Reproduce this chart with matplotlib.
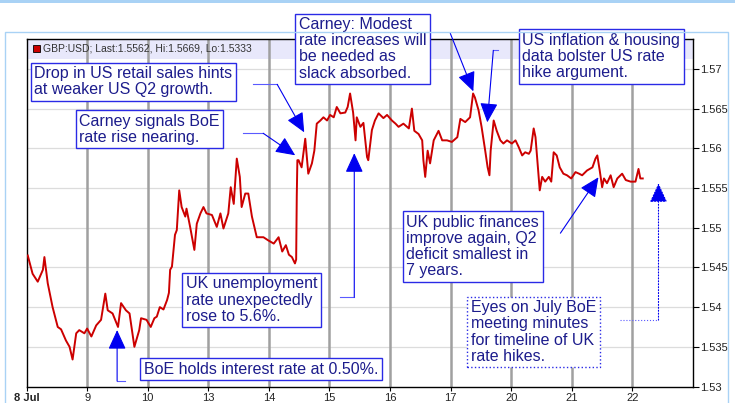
import matplotlib
matplotlib.use('Agg')
import matplotlib.pyplot as plt
from matplotlib.patches import Rectangle

plt.rcParams['font.family'] = ['Liberation Sans', 'DejaVu Sans']

# GBP:USD intraday, x = trading day index (0 = 8 Jul, 10 = 22 Jul)
day_pos = [
    0.02, 0.10, 0.185, 0.27, 0.295, 0.35, 0.43, 0.515, 0.57, 0.65, 0.71, 0.76,
    0.82, 0.87, 0.955, 1.00, 1.07, 1.15, 1.23, 1.30, 1.34, 1.42, 1.51, 1.56,
    1.64, 1.70, 1.78, 1.86, 1.89, 1.98, 2.05, 2.11, 2.15, 2.20, 2.26, 2.32,
    2.35, 2.37, 2.40, 2.45, 2.48, 2.52, 2.56, 2.62, 2.64, 2.70, 2.77, 2.81,
    2.87, 2.92, 2.97, 3.06, 3.14, 3.20, 3.25, 3.33, 3.37, 3.42, 3.47, 3.52,
    3.55, 3.61, 3.66, 3.72, 3.80, 3.91, 3.99, 4.08, 4.16, 4.22, 4.28, 4.33,
    4.38, 4.43, 4.45, 4.46, 4.47, 4.49, 4.54, 4.60, 4.63, 4.65, 4.71, 4.75,
    4.79, 4.85, 4.90, 4.96, 5.01, 5.07, 5.12, 5.18, 5.26, 5.30, 5.34, 5.39,
    5.43, 5.45, 5.51, 5.56, 5.62, 5.64, 5.70, 5.75, 5.81, 5.89, 5.95, 6.03,
    6.09, 6.14, 6.22, 6.31, 6.36, 6.40, 6.47, 6.53, 6.55, 6.58, 6.62, 6.66,
    6.72, 6.80, 6.86, 6.94, 7.02, 7.11, 7.16, 7.24, 7.32, 7.37, 7.40, 7.46,
    7.51, 7.57, 7.61, 7.64, 7.66, 7.71, 7.76, 7.82, 7.87, 7.93, 8.01, 8.07,
    8.12, 8.18, 8.23, 8.29, 8.32, 8.37, 8.40, 8.44, 8.47, 8.51, 8.56, 8.62,
    8.66, 8.70, 8.75, 8.80, 8.86, 8.92, 8.99, 9.06, 9.12, 9.17, 9.25, 9.34,
    9.39, 9.42, 9.46, 9.50, 9.53, 9.58, 9.64, 9.69, 9.75, 9.83, 9.89, 9.97,
    10.05, 10.10, 10.13, 10.17,
]
rate = [
    1.5465, 1.5442, 1.5432, 1.5447, 1.5463, 1.5430, 1.5400, 1.5375, 1.5372, 1.5358, 1.5350, 1.5334,
    1.5367, 1.5371, 1.5367, 1.5373, 1.5363, 1.5377, 1.5384, 1.5417, 1.5396, 1.5392, 1.5375, 1.5405,
    1.5396, 1.5392, 1.5350, 1.5371, 1.5386, 1.5384, 1.5375, 1.5386, 1.5388, 1.5400, 1.5397, 1.5409,
    1.5418, 1.5447, 1.5451, 1.5491, 1.5497, 1.5547, 1.5526, 1.5514, 1.5524, 1.5501, 1.5472, 1.5505,
    1.5518, 1.5526, 1.5518, 1.5516, 1.5501, 1.5518, 1.5499, 1.5518, 1.5551, 1.5530, 1.5587, 1.5564,
    1.5526, 1.5543, 1.5543, 1.5514, 1.5488, 1.5488, 1.5484, 1.5480, 1.5488, 1.5470, 1.5478, 1.5466,
    1.5463, 1.5455, 1.5460, 1.5540, 1.5585, 1.5585, 1.5576, 1.5612, 1.5585, 1.5568, 1.5581, 1.5597,
    1.5631, 1.5635, 1.5639, 1.5635, 1.5642, 1.5639, 1.5652, 1.5644, 1.5645, 1.5652, 1.5669, 1.5645,
    1.5610, 1.5639, 1.5627, 1.5632, 1.5589, 1.5585, 1.5623, 1.5635, 1.5644, 1.5638, 1.5642, 1.5635,
    1.5631, 1.5627, 1.5631, 1.5625, 1.5650, 1.5622, 1.5618, 1.5610, 1.5585, 1.5564, 1.5597, 1.5581,
    1.5610, 1.5622, 1.5610, 1.5610, 1.5608, 1.5614, 1.5637, 1.5633, 1.5639, 1.5669, 1.5664, 1.5648,
    1.5627, 1.5597, 1.5576, 1.5566, 1.5597, 1.5635, 1.5622, 1.5610, 1.5606, 1.5610, 1.5606, 1.5610,
    1.5602, 1.5591, 1.5595, 1.5593, 1.5597, 1.5625, 1.5614, 1.5576, 1.5547, 1.5564, 1.5558, 1.5564,
    1.5558, 1.5595, 1.5591, 1.5576, 1.5568, 1.5566, 1.5562, 1.5570, 1.5568, 1.5566, 1.5572, 1.5576,
    1.5587, 1.5591, 1.5572, 1.5551, 1.5562, 1.5556, 1.5566, 1.5551, 1.5562, 1.5568, 1.5560, 1.5558,
    1.5558, 1.5574, 1.5562, 1.5562,
]

day_labels = ['8 Jul', '9', '10', '13', '14', '15', '16', '17', '20', '21', '22']
rate_ticks = [1.53, 1.535, 1.54, 1.545, 1.55, 1.555, 1.56, 1.565, 1.57]
rate_tick_labels = ['1.53', '1.535', '1.54', '1.545', '1.55', '1.555', '1.56', '1.565', '1.57']
legend_text = 'GBP:USD; Last:1.5562, Hi:1.5669, Lo:1.5333'

# news callouts: box centre, leader corners, arrow tip (all in day / rate units)
notes = [
    dict(text='Drop in US retail sales hints\nat weaker US Q2 growth.', box=(1.759, 1.56837),
         path=[(3.741, 1.56805), (4.137, 1.56805)], tip=(4.583, 1.56201), dotted=False),
    dict(text='Carney signals BoE\nrate rise nearing.', box=(2.031, 1.56239),
         path=[(3.576, 1.56189), (3.906, 1.56189)], tip=(4.434, 1.55912), dotted=False),
    dict(text='Carney: Modest\nrate increases will\nbe needed as\nslack absorbed.', box=(5.549, 1.57252),
         path=[(6.994, 1.57447)], tip=(7.374, 1.56717), dotted=False),
    dict(text='US inflation & housing\ndata bolster US rate\nhike argument.', box=(9.488, 1.57157),
         path=[(7.787, 1.57233), (7.704, 1.57233)], tip=(7.605, 1.56327), dotted=False),
    dict(text='UK public finances\nimprove again, Q2\ndeficit smallest in\n7 years.', box=(7.366, 1.54761),
         path=[(8.811, 1.54931)], tip=(9.439, 1.55635), dotted=False),
    dict(text='Eyes on July BoE\nmeeting minutes\nfor timeline of UK\nrate hikes.', box=(8.365, 1.53686),
         path=[(9.802, 1.53836), (10.43, 1.53836)], tip=(10.43, 1.5556), dotted=True),
    dict(text='BoE holds interest rate at 0.50%.', box=(3.873, 1.5322),
         path=[(1.627, 1.53069), (1.495, 1.53069)], tip=(1.495, 1.53711), dotted=False),
    dict(text='UK unemployment\nrate unexpectedly\nrose to 5.6%.', box=(3.716, 1.54088),
         path=[(5.178, 1.54126), (5.409, 1.54126)], tip=(5.409, 1.55938), dotted=False),
]

text_navy = '#1c1c8c'
box_blue = '#2a2ae6'
line_blue = '#5a5aff'
head_blue = '#0000f0'

fig = plt.figure(figsize=(7.35, 4.03), dpi=100)
ax = fig.add_axes([0.0361, 0.0409, 0.9068, 0.8611])

# light blue frame around the panel
fig.add_artist(Rectangle((0, 1 - 3 / 403), 1, 3 / 403, transform=fig.transFigure,
                         color='#a9d2f5', lw=0))
fig.add_artist(Rectangle((5 / 735, -0.05), 723 / 735, 1.05 - 32 / 403, transform=fig.transFigure,
                         fill=False, edgecolor='#a9d2f5', lw=1))

ax.set_xlim(0, 11)
ax.set_ylim(1.53, 1.5737)

ax.axhspan(1.5713, 1.5737, color='#e8e8fb', lw=0, zorder=0)
for r in rate_ticks[1:]:
    ax.axhline(r, color='#dcdcdc', lw=0.9, zorder=0.5)
for d in range(1, len(day_labels)):
    ax.axvline(d, color='#a0a0a0', lw=1.8, zorder=1)

ax.plot(day_pos, rate, color='#cc0000', lw=1.4, zorder=3)

ax.set_xticks(range(len(day_labels)))
ax.set_xticklabels(day_labels, fontsize=8, color='#222222')
ax.get_xticklabels()[0].set_fontweight('bold')
ax.yaxis.tick_right()
ax.set_yticks(rate_ticks)
ax.set_yticklabels(rate_tick_labels, fontsize=8, color='#222222')
ax.tick_params(axis='y', length=4, pad=1)
ax.tick_params(axis='x', length=3, pad=2)
for s in ax.spines.values():
    s.set_color('black')
    s.set_linewidth(1)

# legend strip
ax.add_patch(Rectangle((0.0095, 0.963), 0.0105, 0.02, transform=ax.transAxes,
                       facecolor='#cc0000', edgecolor='black', lw=0.6, zorder=4))
ax.text(0.0245, 0.9745, legend_text, transform=ax.transAxes, fontsize=7.5,
        color='#333333', va='center', ha='left', zorder=4)

for n in notes:
    ls = ':' if n['dotted'] else '-'
    if len(n['path']) > 1:
        ax.plot([p[0] for p in n['path']], [p[1] for p in n['path']],
                color=line_blue, lw=0.8, ls=ls, zorder=4, clip_on=False)
    ax.annotate('', xy=n['tip'], xytext=n['path'][-1],
                arrowprops=dict(arrowstyle='-|>,head_length=1.2,head_width=0.55',
                                mutation_scale=10, color=head_blue, lw=0.8, ls=ls,
                                shrinkA=0, shrinkB=0),
                annotation_clip=False, zorder=5)
    ax.text(n['box'][0], n['box'][1], n['text'], ha='center', va='center',
            multialignment='left', fontsize=11.5, color=text_navy, linespacing=1.1,
            zorder=6, clip_on=False,
            bbox=dict(boxstyle='square,pad=0.22', fc='white', ec=box_blue, lw=1, ls=ls))

fig.savefig('out.png', dpi=100)
